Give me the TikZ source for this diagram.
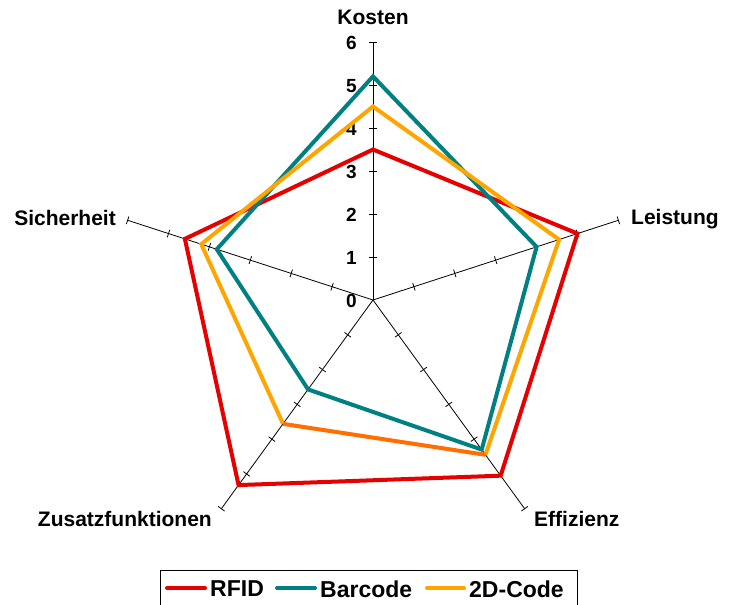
\documentclass[tikz,border=0pt]{standalone}
\usepackage{fontspec}
\setmainfont{Liberation Sans}
\definecolor{rfid}{RGB}{230,0,0}
\definecolor{barc}{RGB}{0,128,128}
\definecolor{code}{RGB}{255,165,0}
\definecolor{codedark}{RGB}{255,110,0}
\begin{document}
\begin{tikzpicture}[x=1pt,y=1pt,
  axis/.style={draw=black,line width=0.8},
  tickmark/.style={draw=black,line width=0.8},
  serie/.style={line width=4},
  axlabel/.style={font=\fontsize{21}{24}\selectfont\bfseries,inner sep=0},
  numlabel/.style={font=\fontsize{19}{22}\selectfont\bfseries,inner sep=0,anchor=east},
  leglabel/.style={font=\fontsize{23}{26}\selectfont\bfseries,inner sep=0,anchor=west}]
\useasboundingbox (0,0) rectangle (731,-605);
\fill[white] (0,0) rectangle (731,-605);
\coordinate (O) at (373,-300);
\def\u{43}
% axes and ticks
\foreach \a/\n in {90/K,18/L,-54/E,-126/Z,162/S}{
  \draw[axis] (O) -- ([shift={(\a:6*\u)}]O) coordinate (end\n);
  \foreach \k in {1,...,6}{
    \draw[tickmark,shift={(O)}] (\a:\k*\u) ++(\a+90:4) -- ++(\a-90:8);
  }
}
% value labels
\foreach \k in {0,...,6}{
  \node[numlabel] (v\k) at (357,{-300+\k*\u-1}) {\k};
}
% axis labels
\node[axlabel] (lK) at (373,-17) {Kosten};
\node[axlabel,anchor=west] (lL) at (631,-219) {Leistung};
\node[axlabel,anchor=west] (lE) at (534,-519) {Effizienz};
\node[axlabel,anchor=east] (lZ) at (212,-519) {Zusatzfunktionen};
\node[axlabel,anchor=east] (lS) at (116,-218) {Sicherheit};
% data points
\begin{scope}[shift={(O)}]
\coordinate (r1) at (90:3.5*\u);
\coordinate (r2) at (18:5.0*\u);
\coordinate (r3) at (-54:5.05*\u);
\coordinate (r4) at (-126:5.32*\u);
\coordinate (r5) at (162:4.6*\u);
\coordinate (b1) at (90:5.2*\u);
\coordinate (b2) at (18:4.0*\u);
\coordinate (b3) at (-54:4.3*\u);
\coordinate (b4) at (-126:2.57*\u);
\coordinate (b5) at (162:3.82*\u);
\coordinate (c1) at (90:4.5*\u);
\coordinate (c2) at (18:4.55*\u);
\coordinate (c3) at (-54:4.45*\u);
\coordinate (c4) at (-126:3.56*\u);
\coordinate (c5) at (162:4.2*\u);
\end{scope}
\draw[serie,rfid] (r1) -- (r2) -- (r3) -- (r4) -- (r5) -- cycle;
\draw[serie,barc] (b1) -- (b2) -- (b3) -- (b4) -- (b5) -- cycle;
\draw[serie,code] (c4) -- (c5) -- (c1) -- (c2) -- (c3);
\draw[serie,codedark] (c3) -- (c4);
% legend
\draw[black,line width=1] (160,-570.5) rectangle (577.5,-606);
\coordinate (la1) at (167,-588); \coordinate (la2) at (205,-588);
\coordinate (lb1) at (277,-588); \coordinate (lb2) at (315,-588);
\coordinate (lc1) at (427,-588); \coordinate (lc2) at (464,-588);
\draw[serie,rfid,line cap=round] (la1) -- (la2);
\draw[serie,barc,line cap=round] (lb1) -- (lb2);
\draw[serie,code,line cap=round] (lc1) -- (lc2);
\node[leglabel] (tR) at (210,-589) {RFID};
\node[leglabel] (tB) at (320,-589) {Barcode};
\node[leglabel] (tC) at (469,-589) {2D-Code};
\end{tikzpicture}
\end{document}
